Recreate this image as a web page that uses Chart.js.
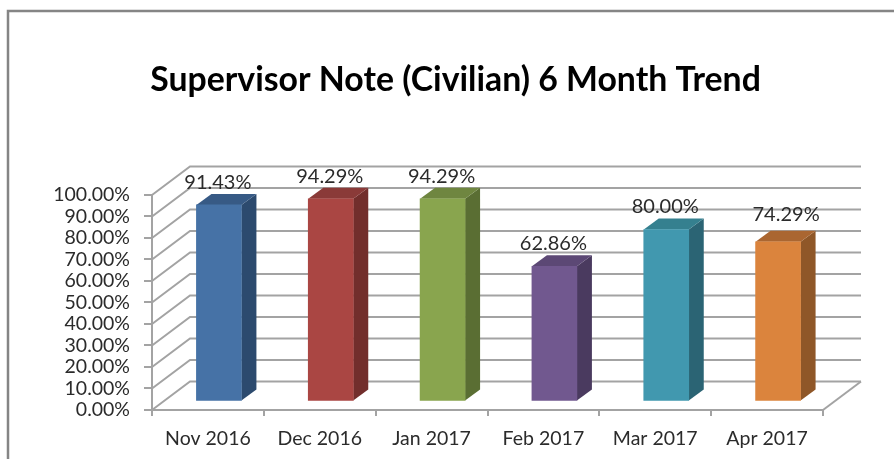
<!DOCTYPE html>
<html>
<head>
<meta charset="utf-8">
<title>Supervisor Note (Civilian) 6 Month Trend</title>
<script src="https://cdn.jsdelivr.net/npm/chart.js@4/dist/chart.umd.min.js"></script>
<style>
    body { margin: 0; background: #fff; }
    canvas { display: block; }
</style>
</head>
<body>
<canvas id="myChart" width="894" height="459"></canvas>
<script>
const chartTitle = 'Supervisor Note (Civilian) 6 Month Trend';
const months = ['Nov 2016', 'Dec 2016', 'Jan 2017', 'Feb 2017', 'Mar 2017', 'Apr 2017'];
const percentValues = [91.43, 94.29, 94.29, 62.86, 80.00, 74.29];
const frontColors = ['#4672a6', '#aa4643', '#89a54e', '#71588f', '#4198af', '#db843d'];
const sideColors = ['#2c4a6e', '#722e2c', '#5a6e33', '#4a3a5f', '#2b6474', '#8f5728'];
const topColors = ['#375a85', '#8a3a38', '#6f8640', '#5c4875', '#35808f', '#aa6631'];

const gridColor = '#a3a3a3';
const textColor = '#2b2b2b';

// depth of the floor / walls and of the boxes, in px
const wallDepth = { x: 38, y: -28.5 };
const barShift = { x: 11, y: -8.5 };
const barDepth = { x: 15, y: -11 };

function polygon(ctx, pts, color) {
    ctx.fillStyle = color;
    ctx.beginPath();
    pts.forEach((p, i) => i ? ctx.lineTo(p[0], p[1]) : ctx.moveTo(p[0], p[1]));
    ctx.closePath();
    ctx.fill();
}

// frame, back wall, side wall and floor
const wallsPlugin = {
    id: 'walls',
    beforeDatasetsDraw(chart) {
        const { ctx, chartArea, scales } = chart;
        ctx.save();
        ctx.strokeStyle = '#858585';
        ctx.lineWidth = 2.5;
        ctx.beginPath();
        ctx.moveTo(8, 459);
        ctx.lineTo(8, 11);
        ctx.lineTo(894, 11);
        ctx.stroke();

        ctx.strokeStyle = gridColor;
        ctx.lineWidth = 2;
        scales.y.ticks.forEach(t => {
            const y = scales.y.getPixelForValue(t.value);
            ctx.beginPath();
            ctx.moveTo(chartArea.left, y);
            ctx.lineTo(chartArea.left + wallDepth.x, y + wallDepth.y);
            ctx.lineTo(chartArea.right + wallDepth.x, y + wallDepth.y);
            ctx.stroke();
        });
        ctx.beginPath();
        ctx.moveTo(chartArea.right, chartArea.bottom);
        ctx.lineTo(chartArea.right + wallDepth.x, chartArea.bottom + wallDepth.y);
        ctx.stroke();
        ctx.restore();
    },
    beforeDatasetDraw(chart) {
        const { ctx } = chart;
        ctx.save();
        ctx.translate(barShift.x, barShift.y);
        // side and top faces of each box
        chart.getDatasetMeta(0).data.forEach((bar, i) => {
            const l = bar.x - bar.width / 2;
            const r = bar.x + bar.width / 2;
            polygon(ctx, [[r, bar.y], [r + barDepth.x, bar.y + barDepth.y], [r + barDepth.x, bar.base + barDepth.y], [r, bar.base]], sideColors[i]);
            polygon(ctx, [[l, bar.y], [l + barDepth.x, bar.y + barDepth.y], [r + barDepth.x, bar.y + barDepth.y], [r, bar.y]], topColors[i]);
        });
    },
    afterDatasetDraw(chart) {
        chart.ctx.restore();
    },
    afterDatasetsDraw(chart) {
        const { ctx } = chart;
        ctx.save();
        ctx.font = '20px Lato';
        ctx.fillStyle = textColor;
        ctx.textAlign = 'center';
        ctx.textBaseline = 'middle';
        chart.getDatasetMeta(0).data.forEach((bar, i) => {
            const label = percentValues[i].toFixed(2) + '%';
            // the last label was dragged off centre in the original
            const nudge = i === months.length - 1 ? { x: 8, y: -4.5 } : { x: -1, y: 0 };
            ctx.fillText(label, bar.x + barShift.x + nudge.x, bar.y + barShift.y - 22.5 + nudge.y);
        });
        ctx.restore();
    },
    afterLayout(chart) {
        // title sits a little right of the canvas centre
        chart.titleBlock.left = 88;
    }
};

const ctx = document.getElementById('myChart').getContext('2d');
new Chart(ctx, {
    type: 'bar',
    data: {
        labels: months,
        datasets: [{
            data: percentValues,
            backgroundColor: frontColors,
            barThickness: 45
        }]
    },
    options: {
        responsive: false,
        animation: false,
        layout: { padding: { right: 71 } },
        plugins: {
            legend: { display: false },
            tooltip: { enabled: false },
            title: {
                display: true,
                text: chartTitle,
                color: '#000',
                font: { family: 'Lato', size: 33.8, weight: 'bold', lineHeight: 1.2 },
                padding: { top: 60, bottom: 94.4 }
            }
        },
        scales: {
            x: {
                afterFit(scale) { scale.height = 49; },
                border: { color: gridColor, width: 2 },
                grid: { color: gridColor, lineWidth: 2, drawOnChartArea: false, tickLength: 6 },
                ticks: { color: textColor, font: { family: 'Lato', size: 19.5 }, padding: 11, autoSkip: false, maxRotation: 0 }
            },
            y: {
                min: 0,
                max: 100,
                afterFit(scale) { scale.width = 152; },
                border: { color: gridColor, width: 2 },
                grid: { color: gridColor, lineWidth: 2, drawOnChartArea: false, tickLength: 8 },
                ticks: {
                    stepSize: 10,
                    autoSkip: false,
                    color: textColor,
                    font: { family: 'Lato', size: 19.5 },
                    padding: 14,
                    callback: v => v.toFixed(2) + '%'
                }
            }
        }
    },
    plugins: [wallsPlugin]
});
</script>
</body>
</html>
